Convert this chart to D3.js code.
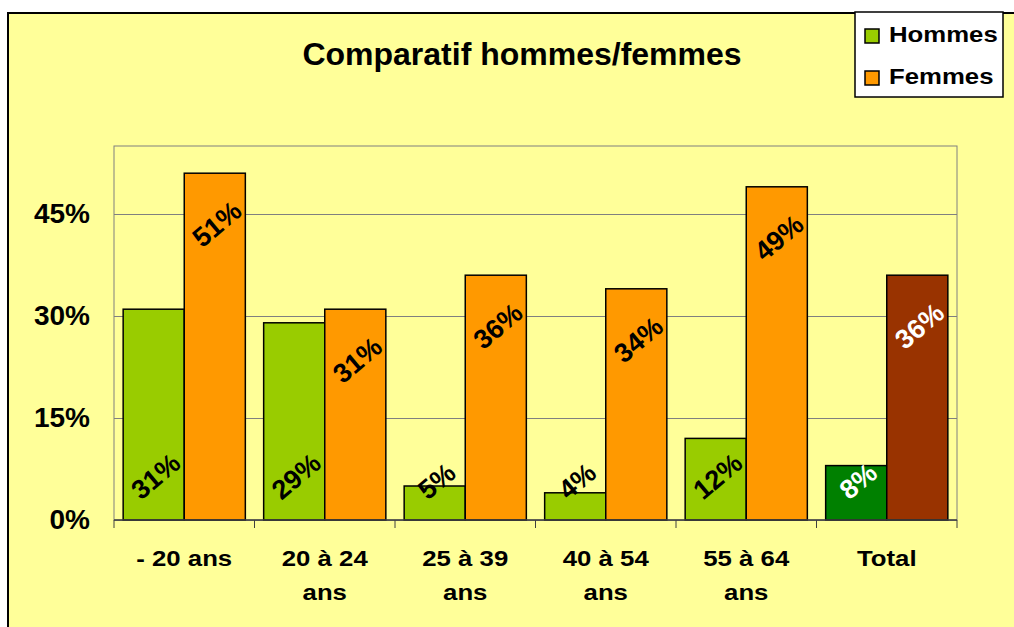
<!DOCTYPE html>
<meta charset="utf-8">
<style>
body { margin: 0; background: #fff; }
text { font-family: "Liberation Sans", Arial, sans-serif; font-weight: bold; }
.grid line { stroke: #808080; stroke-width: 1px; }
.grid .domain { display: none; }
</style>
<svg width="1014" height="627"></svg>
<script src="https://cdn.jsdelivr.net/npm/d3@7"></script>
<script>

// data
var categories = ["- 20 ans", "20 à 24 ans", "25 à 39 ans", "40 à 54 ans", "55 à 64 ans", "Total"];
var hommes = [0.31, 0.29, 0.05, 0.04, 0.12, 0.08];
var femmes = [0.51, 0.31, 0.36, 0.34, 0.49, 0.36];
var seriesNames = ["Hommes", "Femmes"];
var yTicks = [0, 0.15, 0.30, 0.45];

var colors = {Hommes: "#99CC00", Femmes: "#FF9900"};
var totalColors = {Hommes: "#008000", Femmes: "#993300"};

var svg = d3.select("svg"),
    plot = {left: 114, right: 957, top: 146, bottom: 520},
    stretch = 1.12;

// chart area background
svg.append("rect")
    .attr("x", 8).attr("y", 13)
    .attr("width", 1200).attr("height", 800)
    .attr("fill", "#FFFF99")
    .attr("stroke", "#000")
    .attr("stroke-width", 2);

var x0 = d3.scaleBand().domain(categories).range([plot.left, plot.right]).padding(0),
    x1 = d3.scaleBand().domain(seriesNames).range([0, x0.bandwidth()]).paddingInner(0).paddingOuter(0.15),
    y = d3.scaleLinear().domain([0, 0.55]).range([plot.bottom, plot.top]);

// title
svg.append("text")
    .attr("x", 522).attr("y", 65)
    .attr("text-anchor", "middle")
    .style("font-size", "32px")
    .text("Comparatif hommes/femmes");

// gridlines + y labels
var yAxis = svg.append("g")
    .attr("class", "grid")
    .attr("transform", "translate(" + plot.left + ",0)")
    .call(d3.axisLeft(y).tickValues(yTicks).tickSize(-(plot.right - plot.left)).tickPadding(24)
      .tickFormat(d3.format(".0%")));
yAxis.selectAll("text")
    .attr("fill", "#000")
    .style("font-size", "28px");

// plot border
svg.append("rect")
    .attr("x", plot.left).attr("y", plot.top)
    .attr("width", plot.right - plot.left).attr("height", plot.bottom - plot.top)
    .attr("fill", "none")
    .attr("stroke", "#808080");

// bars
var rows = categories.map(function(c, i) {
  return {cat: c, total: c === "Total", values: [
    {key: "Hommes", value: hommes[i]},
    {key: "Femmes", value: femmes[i]}
  ]};
});

var group = svg.selectAll(".cat")
  .data(rows)
  .enter().append("g")
    .attr("class", "cat")
    .attr("transform", function(d) { return "translate(" + x0(d.cat) + ",0)"; });

group.selectAll("rect")
  .data(function(d) { return d.values.map(function(v) { return Object.assign({total: d.total}, v); }); })
  .enter().append("rect")
    .attr("x", function(d) { return x1(d.key); })
    .attr("y", function(d) { return y(d.value); })
    .attr("width", x1.bandwidth())
    .attr("height", function(d) { return y(0) - y(d.value); })
    .attr("fill", function(d) { return d.total ? totalColors[d.key] : colors[d.key]; })
    .attr("stroke", "#000")
    .attr("stroke-width", 1.5);

// rotated value labels (Hommes at base, Femmes at top end)
var fs = 27, angle = 40, rad = angle * Math.PI / 180;
group.selectAll(".lbl")
  .data(function(d) { return d.values.map(function(v) { return Object.assign({total: d.total}, v); }); })
  .enter().append("text")
    .attr("class", "lbl")
    .attr("text-anchor", "middle")
    .attr("dy", "0.35em")
    .style("font-size", fs + "px")
    .attr("fill", function(d) { return d.total ? "#fff" : "#000"; })
    .text(function(d) { return Math.round(d.value * 100) + "%"; })
    .each(function(d) {
      var L = this.getComputedTextLength(),
          half = (L * Math.sin(rad) + 0.72 * fs * Math.cos(rad)) / 2,
          cx = x1(d.key) + x1.bandwidth() / 2 + 2,
          cy = d.key === "Hommes" ? y(0) - 19 - half : y(d.value) + 26 + half;
      d3.select(this).attr("transform", "translate(" + cx + "," + cy + ") rotate(" + (-angle) + ")");
    });

// x axis line and boundary ticks
svg.append("line")
    .attr("x1", plot.left).attr("x2", plot.right)
    .attr("y1", y(0)).attr("y2", y(0))
    .attr("stroke", "#404040").attr("stroke-width", 1.5);

var bounds = categories.map(function(c) { return x0(c); }).concat([x0.range()[1]]);
svg.selectAll(".xtick")
  .data(bounds)
  .enter().append("line")
    .attr("class", "xtick")
    .attr("x1", function(d) { return d; }).attr("x2", function(d) { return d; })
    .attr("y1", y(0)).attr("y2", y(0) + 8)
    .attr("stroke", "#404040");

// category labels, wrapped to the band width
var catLabel = svg.selectAll(".catlbl")
  .data(categories)
  .enter().append("g")
    .attr("class", "catlbl")
    .attr("transform", function(d) {
      return "translate(" + (x0(d) + x0.bandwidth() / 2) + ",566) scale(" + stretch + ",1)";
    });

catLabel.each(function(d) {
  var g = d3.select(this),
      words = d.split(" "),
      lines = [],
      line = [];
  var probe = g.append("text").style("font-size", "23px");
  words.forEach(function(w) {
    line.push(w);
    probe.text(line.join(" "));
    if (probe.node().getComputedTextLength() * stretch > x0.bandwidth() - 10 && line.length > 1) {
      line.pop();
      lines.push(line.join(" "));
      line = [w];
    }
  });
  lines.push(line.join(" "));
  probe.remove();
  g.selectAll("text")
    .data(lines)
    .enter().append("text")
      .attr("text-anchor", "middle")
      .attr("y", function(l, i) { return i * 34; })
      .style("font-size", "23px")
      .text(function(l) { return l; });
});

// legend
var legend = svg.append("g").attr("transform", "translate(855,12)");
legend.append("rect")
    .attr("width", 148).attr("height", 85)
    .attr("fill", "#fff")
    .attr("stroke", "#000")
    .attr("stroke-width", 1.5);

var item = legend.selectAll(".item")
  .data(seriesNames)
  .enter().append("g")
    .attr("class", "item")
    .attr("transform", function(d, i) { return "translate(0," + (i * 42) + ")"; });

item.append("rect")
    .attr("x", 10).attr("y", 17)
    .attr("width", 14).attr("height", 14)
    .attr("fill", function(d) { return colors[d]; })
    .attr("stroke", "#000")
    .attr("stroke-width", 1.5);

item.append("text")
    .attr("transform", "translate(34,30) scale(" + stretch + ",1)")
    .style("font-size", "23px")
    .text(function(d) { return d; });

</script>
